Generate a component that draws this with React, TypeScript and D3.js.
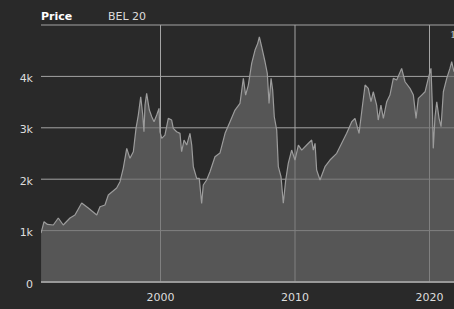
import React from "react";
import * as d3 from "d3";

const title = "Price";
const seriesName = "BEL 20";
const yTicks = [0, 1000, 2000, 3000, 4000, 5000];
const yTickLabels = ["0", "1k", "2k", "3k", "4k", ""];
const xTicks = [2000, 2010, 2020];

// decimal year, index level
const years = [
  1991.12, 1991.34, 1991.6, 1992.03, 1992.4, 1992.77, 1993.27, 1993.64, 1994.14, 1994.63,
  1995.26, 1995.5, 1995.87, 1996.12, 1996.74, 1996.99, 1997.23, 1997.49, 1997.73, 1997.98,
  1998.18, 1998.35, 1998.53, 1998.68, 1998.77, 1998.85, 1998.97, 1999.17, 1999.35, 1999.52,
  1999.72, 1999.89, 1999.96, 2000.09, 2000.33, 2000.58, 2000.83, 2000.95, 2001.2, 2001.45,
  2001.57, 2001.75, 2001.95, 2002.19, 2002.32, 2002.44, 2002.69, 2002.88, 2003.06, 2003.18,
  2003.43, 2003.68, 2004.05, 2004.42, 2004.8, 2005.17, 2005.54, 2005.91, 2006.16, 2006.33,
  2006.53, 2006.78, 2007.03, 2007.23, 2007.35, 2007.52, 2007.77, 2007.94, 2008.07, 2008.22,
  2008.34, 2008.46, 2008.64, 2008.76, 2008.96, 2009.13, 2009.31, 2009.5, 2009.75, 2010.0,
  2010.25, 2010.5, 2010.87, 2011.24, 2011.36, 2011.49, 2011.61, 2011.86, 2012.23, 2012.6,
  2013.1, 2013.47, 2013.84, 2014.22, 2014.46, 2014.76, 2014.96, 2015.21, 2015.45, 2015.65,
  2015.82, 2016.07, 2016.19, 2016.39, 2016.57, 2016.82, 2017.06, 2017.31, 2017.56, 2017.93,
  2018.18, 2018.55, 2018.8, 2019.0, 2019.17, 2019.42, 2019.67, 2019.91, 2020.11, 2020.21,
  2020.28, 2020.41, 2020.54, 2020.71, 2020.86, 2021.03, 2021.28, 2021.52, 2021.65, 2021.82,
  2022.1,
];
const values = [
  953, 1173, 1120, 1109, 1245, 1109, 1245, 1303, 1537, 1440,
  1303, 1465, 1498, 1692, 1828, 1951, 2211, 2600, 2406, 2534,
  2989, 3248, 3604, 3248, 2923, 3443, 3670, 3345, 3215, 3118,
  3248, 3378, 2923, 2795, 2859, 3184, 3151, 2989, 2923, 2892,
  2534, 2762, 2665, 2892, 2665, 2243, 2017, 2017, 1530, 1887,
  1984, 2145, 2437, 2509, 2892, 3118, 3345, 3475, 3962, 3637,
  3832, 4253, 4512, 4643, 4771, 4577, 4285, 4059, 3475, 3962,
  3734, 3215, 2956, 2243, 2048, 1531, 1984, 2308, 2567, 2373,
  2665, 2567, 2665, 2762, 2567, 2698, 2178, 1984, 2243, 2373,
  2503, 2698, 2892, 3118, 3184, 2892, 3312, 3832, 3767, 3507,
  3701, 3443, 3151, 3443, 3184, 3507, 3637, 3962, 3929, 4156,
  3896, 3767, 3637, 3184, 3573, 3637, 3701, 3962, 4156, 3443,
  2600, 3215, 3507, 3184, 3021, 3701, 3962, 4156, 4285, 4091,
  4200,
];

const W = 454;
const H = 309;
const m = { left: 41, top: 25 };

export default function App() {
  React.useEffect(() => {
    document.body.style.margin = "0";
    document.body.style.background = "#292929";
  }, []);

  const x = d3.scaleLinear().domain([2000, 2020]).range([160.5, 429.5]);
  const y = d3.scaleLinear().domain([0, 5000]).range([282, 25]);
  const data = years.map((t, i) => ({ t, v: values[i] }));

  const area = d3
    .area<{ t: number; v: number }>()
    .x((d) => x(d.t))
    .y0(y(0))
    .y1((d) => y(d.v));
  const line = d3
    .line<{ t: number; v: number }>()
    .x((d) => x(d.t))
    .y((d) => y(d.v));

  const font = "'DejaVu Sans', Verdana, sans-serif";
  const grid = "#a4a4a4";

  return (
    <div style={{ position: "absolute", left: 0, top: 0 }}>
      <svg width={W} height={H} style={{ display: "block", background: "#292929" }}>
        <defs>
          <clipPath id="plot">
            <rect x={m.left} y={0} width={W - m.left} height={283} />
          </clipPath>
        </defs>
        {yTicks.map((v) => (
          <line key={"h" + v} x1={m.left} x2={W} y1={y(v)} y2={y(v)} stroke={grid} strokeWidth={1} />
        ))}
        {xTicks.map((t) => (
          <line key={"v" + t} x1={x(t)} x2={x(t)} y1={y(5000)} y2={y(0)} stroke={grid} strokeWidth={1} />
        ))}
        <g clipPath="url(#plot)">
          <path d={area(data) || ""} fill="#6e6e6e" fillOpacity={0.66} />
          <path d={line(data) || ""} fill="none" stroke="#9c9c9c" strokeWidth={1.2} strokeLinejoin="bevel" />
        </g>
        <line x1={m.left} x2={W} y1={y(0)} y2={y(0)} stroke="#a8a8a8" strokeWidth={1.5} />
        {yTicks.map((v, i) => (
          <text key={"yl" + v} x={33} y={y(v) + 5.5} textAnchor="end" fill="#dddddd" fontFamily={font} fontSize={11}>
            {yTickLabels[i]}
          </text>
        ))}
        {xTicks.map((t) => (
          <text key={"xl" + t} x={x(t)} y={301} textAnchor="middle" fill="#dddddd" fontFamily={font} fontSize={11}>
            {String(t)}
          </text>
        ))}
        <text x={41} y={19.5} fill="#ffffff" fontFamily={font} fontSize={11} fontWeight="bold">
          {title}
        </text>
        <text x={108} y={19.5} fill="#dddddd" fontFamily={font} fontSize={11}>
          {seriesName}
        </text>
        <text x={450} y={38} fill="#cccccc" fontFamily="'DejaVu Serif', serif" fontSize={10}>
          1
        </text>
      </svg>
    </div>
  );
}
